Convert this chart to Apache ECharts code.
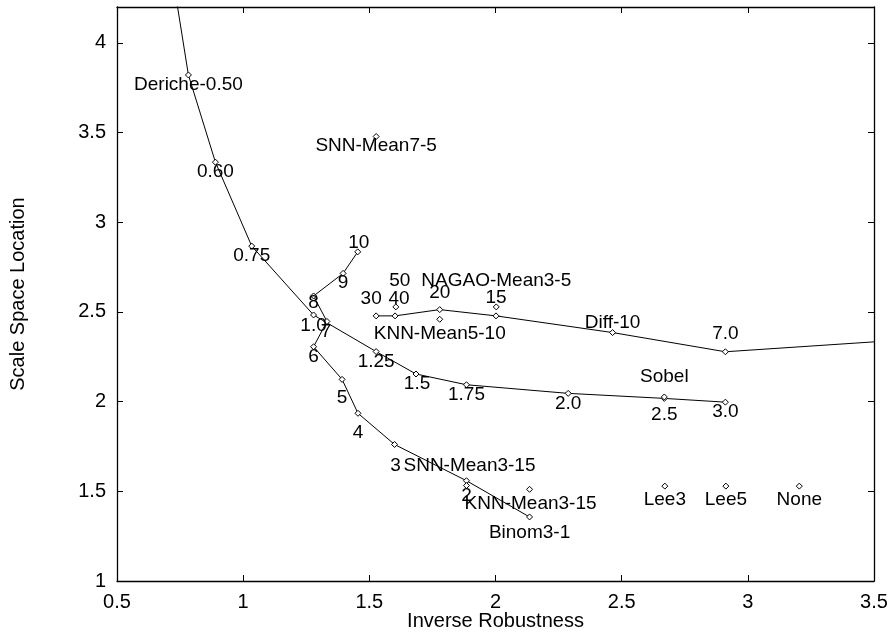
<!DOCTYPE html>
<html>
<head>
<meta charset="utf-8">
<script src="https://cdn.jsdelivr.net/npm/echarts@6/dist/echarts.min.js"></script>
<style>
html,body{margin:0;padding:0;background:#fff;}
#c{width:891px;height:632px;}
</style>
</head>
<body>
<div id="c"></div>
<script>
// ---- data ----
var xTicks = [0.5, 1, 1.5, 2, 2.5, 3, 3.5];
var yTicks = [1, 1.5, 2, 2.5, 3, 3.5, 4];

var derX = [0.706, 0.783, 0.890, 1.034, 1.279, 1.527, 1.685, 1.885, 2.288, 2.669, 2.911];
var derY = [4.5, 3.821, 3.335, 2.867, 2.483, 2.279, 2.154, 2.094, 2.046, 2.018, 1.997];
var derLabels = ['', 'Deriche-0.50', '0.60', '0.75', '1.0', '1.25', '1.5', '1.75', '2.0', '2.5', '3.0'];

var snnX = [2.135, 1.885, 1.600, 1.455, 1.392, 1.279, 1.332, 1.279, 1.396, 1.454];
var snnY = [1.357, 1.559, 1.761, 1.935, 2.124, 2.306, 2.447, 2.589, 2.715, 2.835];
var snnLabels = ['Binom3-1', 'SNN-Mean3-15', '3', '4', '5', '6', '7', '8', '9', '10'];
var snnExtraLabel = 'SNN-Mean5-10';

var diffX = [1.527, 1.602, 1.779, 2.002, 2.464, 2.911, 4.0];
var diffY = [2.478, 2.478, 2.513, 2.478, 2.385, 2.278, 2.38];
var diffLabels = ['30', '40', '20', '15', 'Diff-10', '7.0', ''];

var isoX = [1.527, 1.605, 2.003, 1.779, 1.885, 2.135, 2.669, 2.671, 2.913, 3.204];
var isoY = [3.478, 2.528, 2.528, 2.459, 1.532, 1.511, 2.026, 1.529, 1.529, 1.529];
var isoLabels = ['SNN-Mean7-5', '50', 'NAGAO-Mean3-5', 'KNN-Mean5-10', '2', 'KNN-Mean3-15', 'Sobel', 'Lee3', 'Lee5', 'None'];

// ---- label layout (pixel offsets) ----
var derOff = [[0,0],[0,10],[0,10],[0,10],[0,11],[0,10],[1,10],[0,10],[0,10],[0,16],[0,10]];
var snnOff = [[0,16],[3,-15],[1,21],[0,19],[0,18],[0,10],[-1,10],[0,7],[0,9],[1,-9]];
var snnExtraOff = [42, 11];
var diffOff = [[-5,-17],[4,-17],[0,-17],[0,-18],[0,-10],[0,-18],[0,0]];
var isoOff = [[0,9],[4,-26],[0,-26],[0,14],[0,10],[1,14],[0,-20],[0,14],[0,14],[0,14]];

var FONT = '"Liberation Sans", Arial, Helvetica, sans-serif';

function build(xs, ys, labels, offs) {
  return xs.map(function (x, i) {
    return {
      value: [x, ys[i]],
      label: {
        show: labels[i] !== '',
        formatter: labels[i],
        offset: offs[i]
      }
    };
  });
}

var symStyle = { color: '#fff', borderColor: '#000', borderWidth: 1, opacity: 1 };
var labelBase = {
  show: true, position: 'inside', color: '#000', fontSize: 19,
  fontFamily: FONT, align: 'center', verticalAlign: 'middle', opacity: 1
};

function lineSeries(xs, ys, labels, offs) {
  return {
    type: 'line',
    data: build(xs, ys, labels, offs),
    symbol: 'diamond', symbolSize: 6, showAllSymbol: true,
    itemStyle: symStyle,
    lineStyle: { color: '#000', width: 1 },
    label: labelBase,
    clip: true, z: 3
  };
}

var chart = echarts.init(document.getElementById('c'), null, { renderer: 'canvas' });

var axisCommon = {
  type: 'value',
  axisLine: { show: true, onZero: false, lineStyle: { color: '#000', width: 1.3 } },
  axisTick: { show: true, inside: true, length: 6, lineStyle: { color: '#000', width: 1 } },
  splitLine: { show: false }
};

function tickFmt(ticks) {
  return function (v) {
    for (var i = 0; i < ticks.length; i++) {
      if (Math.abs(ticks[i] - v) < 1e-6) return String(ticks[i]);
    }
    return '';
  };
}

var option = {
  animation: false,
  backgroundColor: '#fff',
  grid: { left: 117, top: 7, right: 17, bottom: 51, containLabel: false, outerBoundsMode: 'none' },
  xAxis: [
    Object.assign({}, axisCommon, {
      position: 'bottom', min: 0.5, max: 3.5, interval: 0.5,
      name: 'Inverse Robustness', nameLocation: 'middle', nameGap: 30, nameMoveOverlap: false,
      nameTextStyle: { color: '#000', fontSize: 20, fontFamily: FONT },
      axisLabel: { color: '#000', fontSize: 20, fontFamily: FONT, margin: 11, formatter: tickFmt(xTicks) }
    }),
    Object.assign({}, axisCommon, {
      position: 'top', min: 0.5, max: 3.5, interval: 0.5,
      axisLabel: { show: false }
    })
  ],
  yAxis: [
    Object.assign({}, axisCommon, {
      position: 'left', min: 1, max: 4.2, interval: 0.5,
      name: 'Scale Space Location', nameLocation: 'middle', nameGap: 89, nameRotate: 90, nameMoveOverlap: false,
      nameTextStyle: { color: '#000', fontSize: 20, fontFamily: FONT },
      axisLabel: { color: '#000', fontSize: 20, fontFamily: FONT, margin: 11, formatter: tickFmt(yTicks) }
    }),
    Object.assign({}, axisCommon, {
      position: 'right', min: 1, max: 4.2, interval: 0.5,
      axisLabel: { show: false }
    })
  ],
  series: [
    lineSeries(derX, derY, derLabels, derOff),
    lineSeries(snnX, snnY, snnLabels, snnOff),
    lineSeries(diffX, diffY, diffLabels, diffOff),
    {
      type: 'scatter',
      data: build(isoX, isoY, isoLabels, isoOff),
      symbol: 'diamond', symbolSize: 6,
      itemStyle: symStyle,
      label: labelBase,
      z: 4
    },
    {
      type: 'scatter',
      data: [{ value: [snnX[9], snnY[9]], label: { show: true, formatter: snnExtraLabel, offset: snnExtraOff } }],
      symbol: 'none', symbolSize: 0,
      itemStyle: { opacity: 1 },
      label: labelBase,
      z: 5
    }
  ]
};
chart.setOption(option);
</script>
</body>
</html>
